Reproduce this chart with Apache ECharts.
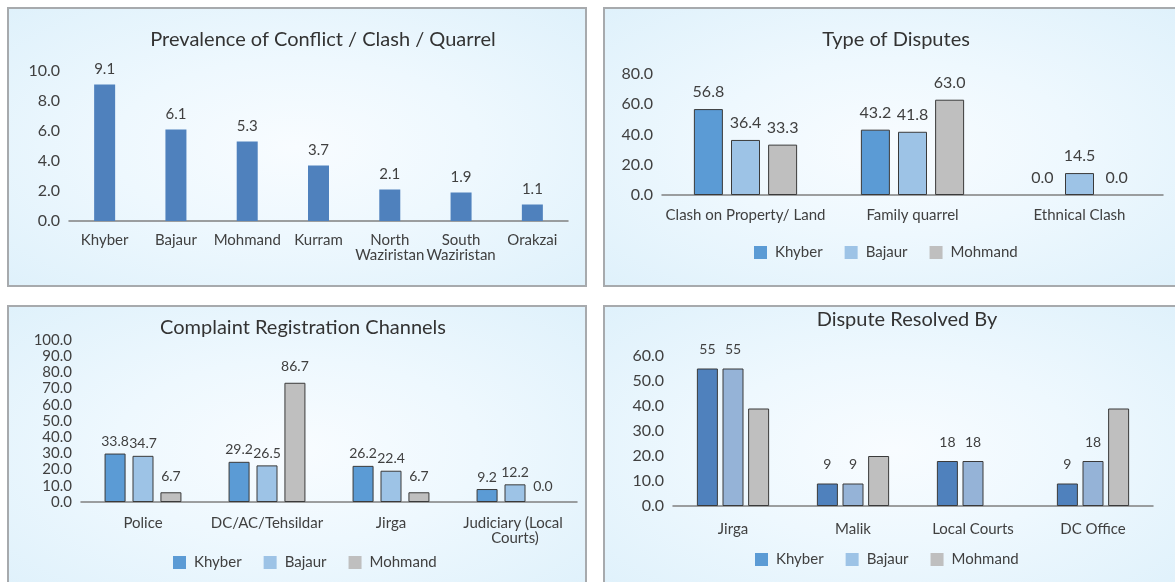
<!DOCTYPE html>
<html>
<head>
<meta charset="utf-8">
<script src="https://cdn.jsdelivr.net/npm/echarts@6/dist/echarts.min.js"></script>
<style>
  html, body { margin: 0; padding: 0; background: #fff; width: 1175px; height: 582px; overflow: hidden; }
  .panel {
    position: absolute; box-sizing: border-box; width: 580px;
    border: 2px solid #a7aaad;
    background: radial-gradient(ellipse at 50% 50%, #f8fcff 0%, #eef8fe 45%, #dff1fb 100%);
  }
  #p1 { left: 7px; top: 7px; height: 280px; }
  #p2 { left: 603px; top: 7px; height: 280px; }
  #p3 { left: 7px; top: 305px; height: 290px; }
  #p4 { left: 603px; top: 305px; height: 290px; }
</style>
</head>
<body>
<div class="panel" id="p1"></div>
<div class="panel" id="p2"></div>
<div class="panel" id="p3"></div>
<div class="panel" id="p4"></div>
<script>
// --- data ---
var agencies = ['Khyber', 'Bajaur', 'Mohmand', 'Kurram', 'North Waziristan', 'South Waziristan', 'Orakzai'];
var prevalence = [9.1, 6.1, 5.3, 3.7, 2.1, 1.9, 1.1];

var seriesNames = ['Khyber', 'Bajaur', 'Mohmand'];

var disputeTypes = ['Clash on Property/ Land', 'Family quarrel', 'Ethnical Clash'];
var disputeKhyber = [56.8, 43.2, 0.0];
var disputeBajaur = [36.4, 41.8, 14.5];
var disputeMohmand = [33.3, 63.0, 0.0];

var channels = ['Police', 'DC/AC/Tehsildar', 'Jirga', 'Judiciary (Local Courts)'];
// printed values
var channelKhyberLabel = ['33.8', '29.2', '26.2', '9.2'];
var channelBajaurLabel = ['34.7', '26.5', '22.4', '12.2'];
var channelMohmandLabel = ['6.7', '86.7', '6.7', '0.0'];
// bar heights as drawn in the picture
var channelKhyber = [29.9, 24.8, 22.3, 8.0];
var channelBajaur = [28.5, 22.6, 19.3, 10.9];
var channelMohmand = [6.0, 73.6, 6.0, 0];

var resolvers = ['Jirga', 'Malik', 'Local Courts', 'DC Office'];
var resolvedKhyber = [55, 9, 18, 9];
var resolvedBajaur = [55, 9, 18, 18];
var resolvedMohmand = [39, 20, 0, 39];

var FONT = 'Lato, "Open Sans", sans-serif';
var TXT = '#404040';

function yAxis(max, interval, size, margin) {
  return {
    type: 'value', min: 0, max: max, interval: interval,
    axisLine: { show: false }, axisTick: { show: false }, splitLine: { show: false },
    axisLabel: { color: TXT, fontFamily: FONT, fontSize: size, margin: margin, formatter: function (v) { return v.toFixed(1); } }
  };
}

function xAxis(cats, margin, extra) {
  var lbl = { color: TXT, fontFamily: FONT, fontSize: 15, margin: margin, interval: 0, lineHeight: 15 };
  for (var k in extra) lbl[k] = extra[k];
  return {
    type: 'category', data: cats,
    axisLine: { lineStyle: { color: '#808080', width: 1.5 } },
    axisTick: { show: false },
    axisLabel: lbl
  };
}

function title(text, x, y) {
  return { text: text, left: x, top: y, textAlign: 'center', padding: 0,
    textStyle: { color: '#333', fontFamily: FONT, fontSize: 20, fontWeight: 'normal' } };
}

function legend(x, y, colors) {
  return {
    left: x, top: y, padding: 0, itemWidth: 13, itemHeight: 13, itemGap: 22, icon: 'rect',
    itemStyle: { borderWidth: 0 },
    textStyle: { color: TXT, fontFamily: FONT, fontSize: 15, padding: [0, 0, 0, 3] },
    data: seriesNames.map(function (n, i) { return { name: n, itemStyle: { color: colors[i], borderWidth: 0 } }; })
  };
}

function bars(name, data, color, opts) {
  // zero values get no outline, like the original
  var items = data.map(function (v) { return v === 0 ? { value: v, itemStyle: { borderWidth: 0 } } : v; });
  var s = {
    type: 'bar', name: name, data: items, barWidth: opts.w, barGap: opts.gap, barCategoryGap: opts.cat,
    itemStyle: { color: color, borderColor: '#3a3a3a', borderWidth: 1 },
    label: { show: true, position: 'top', distance: opts.dist, color: TXT, fontFamily: FONT, fontSize: opts.fs,
      formatter: opts.fmt || function (p) { return p.value.toFixed(1); } }
  };
  if (opts.noLabel) s.label.show = false;
  return s;
}

// --- panel 1 ---
echarts.init(document.getElementById('p1')).setOption({
  animation: false,
  title: title('Prevalence of Conflict / Clash / Quarrel', 314, 21),
  grid: { left: 60, top: 62, width: 499, height: 150 },
  xAxis: xAxis(agencies, 12, { formatter: function (v) { return v.replace(' ', '\n'); } }),
  yAxis: yAxis(10, 2, 16, 9),
  series: [{
    type: 'bar', data: prevalence, barWidth: 21,
    itemStyle: { color: '#4f81bd' },
    label: { show: true, position: 'top', distance: 8, color: TXT, fontFamily: FONT, fontSize: 15,
      formatter: function (p) { return p.value.toFixed(1); } }
  }]
});

// --- panel 2 ---
var c2 = ['#5b9bd5', '#9dc3e6', '#bfbfbf'];
var o2 = { w: 29, gap: '28%', cat: '38%', dist: 9, fs: 16 };
echarts.init(document.getElementById('p2')).setOption({
  animation: false,
  title: title('Type of Disputes', 291, 21),
  legend: legend(149, 236, c2),
  grid: { left: 57, top: 65, width: 501, height: 121 },
  xAxis: xAxis(disputeTypes, 13, {}),
  yAxis: yAxis(80, 20, 16, 9),
  series: [
    bars('Khyber', disputeKhyber, c2[0], o2),
    bars('Bajaur', disputeBajaur, c2[1], o2),
    bars('Mohmand', disputeMohmand, c2[2], o2)
  ]
});

// --- panel 3 ---
function labelFrom(arr) { return function (p) { return arr[p.dataIndex]; }; }
var c3 = ['#5b9bd5', '#9dc3e6', '#bfbfbf'];
echarts.init(document.getElementById('p3')).setOption({
  animation: false,
  title: title('Complaint Registration Channels', 294, 11),
  legend: legend(164, 248, c3),
  grid: { left: 72, top: 33, width: 496, height: 162 },
  xAxis: xAxis(channels, 14, { width: 118, overflow: 'break' }),
  yAxis: yAxis(100, 10, 15, 9),
  series: [
    bars('Khyber', channelKhyber, c3[0], { w: 21, gap: '33%', cat: '39%', dist: 5, fs: 14, fmt: labelFrom(channelKhyberLabel) }),
    bars('Bajaur', channelBajaur, c3[1], { w: 21, gap: '33%', cat: '39%', dist: 5, fs: 14, fmt: labelFrom(channelBajaurLabel) }),
    bars('Mohmand', channelMohmand, c3[2], { w: 21, gap: '33%', cat: '39%', dist: 9, fs: 14, fmt: labelFrom(channelMohmandLabel) })
  ]
});

// --- panel 4 ---
var c4 = ['#4f81bd', '#95b3d7', '#bfbfbf'];
var o4 = { w: 21, gap: '22%', cat: '41%', dist: 12, fs: 14, fmt: function (p) { return p.value; } };
echarts.init(document.getElementById('p4')).setOption({
  animation: false,
  title: title('Dispute Resolved By', 302, 3),
  legend: legend(150, 245, ['#5b9bd5', '#9dc3e6', '#bfbfbf']),
  grid: { left: 68, top: 49, width: 480, height: 150 },
  xAxis: xAxis(resolvers, 16, {}),
  yAxis: yAxis(60, 10, 16, 9),
  series: [
    bars('Khyber', resolvedKhyber, c4[0], o4),
    bars('Bajaur', resolvedBajaur, c4[1], o4),
    bars('Mohmand', resolvedMohmand, c4[2], { w: 21, gap: '22%', cat: '41%', noLabel: true })
  ]
});
</script>
</body>
</html>
